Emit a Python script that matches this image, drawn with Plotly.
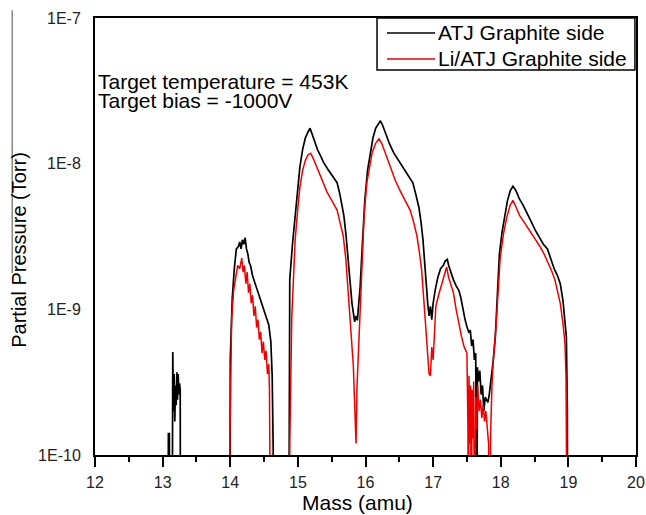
import plotly.graph_objects as go

# ATJ Graphite side (black); 1e-11 marks points below the detection floor (off the axis)
atj_mass = [12.0, 13.08, 13.085, 13.10, 13.105, 13.14, 13.15, 13.16, 13.17, 13.18, 13.19, 13.20,
            13.21, 13.22, 13.23, 13.24, 13.25, 13.26, 13.265, 13.995,
            14.00, 14.03, 14.06, 14.09, 14.12, 14.14, 14.16, 14.18, 14.20, 14.22, 14.24, 14.26,
            14.28, 14.30, 14.33, 14.36, 14.39, 14.42, 14.45, 14.48, 14.51, 14.54, 14.57, 14.60,
            14.62, 14.635, 14.64, 14.865,
            14.87, 14.88, 14.92, 14.96, 15.00, 15.03, 15.07, 15.11, 15.15, 15.18, 15.20, 15.24,
            15.29, 15.34, 15.38, 15.44, 15.50, 15.55, 15.58, 15.62, 15.65, 15.68, 15.71, 15.74,
            15.77, 15.80, 15.82, 15.84, 15.86, 15.88, 15.90, 15.92, 15.95, 15.99, 16.03, 16.07,
            16.11, 16.15, 16.19, 16.22, 16.25, 16.30, 16.36, 16.42, 16.48, 16.55, 16.62, 16.70,
            16.75, 16.79, 16.82, 16.85, 16.88, 16.90, 16.92, 16.94, 16.96, 16.98, 17.00, 17.03,
            17.07, 17.11, 17.15, 17.18, 17.21, 17.23, 17.26, 17.30, 17.34, 17.38, 17.41, 17.44,
            17.47, 17.50, 17.53, 17.55, 17.57, 17.59, 17.61, 17.63, 17.645, 17.655, 17.67, 17.69,
            17.71, 17.73, 17.75, 17.77, 17.79, 17.81, 17.83, 17.86, 17.89, 17.92, 17.95, 17.98,
            18.02, 18.06, 18.10, 18.14, 18.18, 18.22, 18.27, 18.33, 18.39, 18.45, 18.51, 18.57,
            18.63, 18.69, 18.74, 18.79, 18.84, 18.88, 18.92, 18.95, 18.97, 18.985, 18.99, 20.0]
atj_pressure = [1e-11, 1e-11, 1.4e-10, 1.4e-10, 1e-11, 1e-11, 5.1e-10, 2.0e-10, 3.6e-10, 1.7e-10,
                3.0e-10, 2.2e-10, 3.7e-10, 2.4e-10, 3.6e-10, 2.6e-10, 3.1e-10, 2.8e-10, 1e-11, 1e-11,
                4.5e-10, 1.2e-9, 1.9e-9, 2.6e-9, 2.7e-9, 2.9e-9, 2.6e-9, 3.0e-9, 2.8e-9, 3.1e-9,
                2.6e-9, 2.4e-9, 2.1e-9, 2.0e-9, 1.7e-9, 1.55e-9, 1.4e-9, 1.25e-9, 1.15e-9, 1.05e-9,
                9.5e-10, 8.8e-10, 7.8e-10, 6.0e-10, 3.5e-10, 1.1e-10, 1e-11, 1e-11,
                2e-10, 1.6e-9, 2.8e-9, 4.3e-9, 7.0e-9, 9.5e-9, 1.25e-8, 1.5e-8, 1.65e-8, 1.75e-8,
                1.65e-8, 1.45e-8, 1.25e-8, 1.12e-8, 1.02e-8, 9.2e-9, 8.4e-9, 7.8e-9, 7.4e-9, 6.2e-9,
                5.2e-9, 4.4e-9, 3.3e-9, 2.2e-9, 1.5e-9, 1.1e-9, 9.5e-10, 8.2e-10, 9.0e-10, 8.4e-10,
                1.1e-9, 1.4e-9, 2.6e-9, 5.6e-9, 9.0e-9, 1.2e-8, 1.5e-8, 1.75e-8, 1.9e-8, 1.97e-8,
                1.85e-8, 1.6e-8, 1.35e-8, 1.18e-8, 1.07e-8, 9.5e-9, 8.4e-9, 7.4e-9, 6.0e-9, 5.0e-9,
                4.0e-9, 3.0e-9, 1.95e-9, 1.4e-9, 1.1e-9, 9.0e-10, 1.05e-9, 8.5e-10, 1.1e-9, 1.35e-9,
                1.66e-9, 1.9e-9, 2.0e-9, 2.15e-9, 2.2e-9, 2.0e-9, 1.8e-9, 1.6e-9, 1.45e-9, 1.35e-9,
                1.2e-9, 1.0e-9, 8.6e-10, 7.6e-10, 6.9e-10, 7.2e-10, 5.6e-10, 6.2e-10, 4.5e-10, 5.0e-10,
                1e-11, 4.0e-10, 3.2e-10, 3.8e-10, 2.6e-10, 3.0e-10, 2.0e-10, 2.5e-10, 2.4e-10, 2.3e-10,
                2.6e-10, 3.4e-10, 4.5e-10, 6.5e-10, 1.4e-9, 2.4e-9, 3.4e-9, 4.4e-9, 5.6e-9, 6.5e-9,
                7.0e-9, 6.6e-9, 5.8e-9, 5.2e-9, 4.6e-9, 4.0e-9, 3.5e-9, 3.1e-9, 2.8e-9, 2.6e-9,
                2.2e-9, 1.9e-9, 1.7e-9, 1.5e-9, 1.15e-9, 8.5e-10, 6.5e-10, 2e-10, 1e-11, 1e-11]

# Li/ATJ Graphite side (red)
li_mass = [12.0, 13.99, 13.995, 14.01, 14.02, 14.05, 14.08, 14.11, 14.14, 14.17, 14.19, 14.21,
           14.23, 14.25, 14.27, 14.29, 14.31, 14.33, 14.35, 14.37, 14.39, 14.41, 14.43, 14.45,
           14.47, 14.49, 14.51, 14.53, 14.55, 14.57, 14.58, 14.595, 14.60, 14.875,
           14.88, 14.91, 14.94, 14.96, 15.00, 15.03, 15.07, 15.11, 15.15, 15.19, 15.23, 15.28,
           15.33, 15.37, 15.43, 15.50, 15.58, 15.62, 15.67, 15.71, 15.74, 15.77, 15.80, 15.82,
           15.84, 15.86, 15.875, 15.89, 15.91, 15.94, 15.98, 16.02, 16.06, 16.10, 16.15, 16.20,
           16.24, 16.30, 16.36, 16.44, 16.52, 16.60, 16.66, 16.71, 16.76, 16.80, 16.83, 16.86,
           16.88, 16.90, 16.92, 16.94, 16.96, 16.98, 17.00, 17.02, 17.04, 17.08, 17.13, 17.17,
           17.20, 17.23, 17.27, 17.30, 17.34, 17.38, 17.42, 17.46, 17.50, 17.515, 17.52, 17.53,
           17.545, 17.555, 17.565, 17.575, 17.59, 17.60, 17.615, 17.63, 17.645, 17.66, 17.68, 17.70,
           17.72, 17.74, 17.76, 17.78, 17.80, 17.82, 17.835, 17.85, 17.87, 17.89, 17.93, 17.96,
           17.99, 18.04, 18.09, 18.14, 18.18, 18.22, 18.28, 18.34, 18.39, 18.45, 18.52, 18.58,
           18.64, 18.70, 18.75, 18.80, 18.85, 18.88, 18.92, 18.95, 18.965, 18.975, 18.98, 18.985, 20.0]
li_pressure = [1e-11, 1e-11, 1.2e-10, 4.5e-10, 8.5e-10, 1.35e-9, 1.7e-9, 2.0e-9, 1.9e-9, 2.25e-9,
               1.8e-9, 2.0e-9, 1.5e-9, 1.8e-9, 1.3e-9, 1.5e-9, 1.1e-9, 1.25e-9, 9.0e-10, 1.05e-9,
               7.5e-10, 8.5e-10, 6.2e-10, 7.0e-10, 5.0e-10, 6.0e-10, 4.5e-10, 5.2e-10, 3.6e-10, 4.2e-10,
               2.8e-10, 1.1e-10, 1e-11, 1e-11,
               1.2e-10, 8.9e-10, 2.0e-9, 3.0e-9, 5.0e-9, 6.9e-9, 9.0e-9, 1.05e-8, 1.15e-8, 1.18e-8,
               1.08e-8, 9.4e-9, 8.2e-9, 7.4e-9, 6.4e-9, 5.6e-9, 4.8e-9, 4.0e-9, 3.2e-9, 2.2e-9,
               1.45e-9, 9.0e-10, 6.0e-10, 4.1e-10, 2.2e-10, 1.2e-10, 3.0e-10, 4.5e-10, 9.0e-10, 2.0e-9,
               4.5e-9, 7.4e-9, 9.8e-9, 1.2e-8, 1.38e-8, 1.48e-8, 1.38e-8, 1.15e-8, 9.5e-9, 7.7e-9,
               6.4e-9, 5.4e-9, 4.8e-9, 4.0e-9, 3.2e-9, 2.4e-9, 1.86e-9, 1.2e-9, 8.5e-10, 6.0e-10,
               4.5e-10, 3.6e-10, 3.5e-10, 5.5e-10, 4.5e-10, 8.0e-10, 1.05e-9, 1.25e-9, 1.5e-9, 1.8e-9,
               1.95e-9, 1.65e-9, 1.45e-9, 1.3e-9, 1.0e-9, 8.0e-10, 6.5e-10, 5.5e-10, 5.0e-10, 1.5e-10,
               1e-11, 3.5e-10, 1.2e-10, 3.0e-10, 1e-11, 2.8e-10, 1.3e-10, 3.2e-10, 1e-11, 2.5e-10,
               1.5e-10, 3.0e-10, 2.0e-10, 2.4e-10, 1.8e-10, 2.2e-10, 1.7e-10, 2.0e-10, 1.5e-10, 1.2e-10,
               1e-11, 1.4e-10, 3.0e-10, 4.5e-10, 7.6e-10, 1.4e-9, 2.2e-9, 3.3e-9, 4.3e-9, 5.2e-9,
               5.6e-9, 5.1e-9, 4.4e-9, 4.0e-9, 3.7e-9, 3.3e-9, 3.0e-9, 2.7e-9, 2.4e-9, 2.1e-9,
               1.85e-9, 1.6e-9, 1.3e-9, 1.1e-9, 8.0e-10, 5.8e-10, 3.5e-10, 2.0e-10, 1.1e-10, 1e-11, 1e-11]

series_names = ["ATJ Graphite side", "Li/ATJ Graphite side"]
series_colors = ["black", "#ee0000"]
y_tickvals = [1e-10, 1e-9, 1e-8, 1e-7]
y_ticktext = ["1E-10", "1E-9", "1E-8", "1E-7"]
notes = ["Target temperature = 453K", "Target bias = -1000V"]

fig = go.Figure()
fig.add_trace(go.Scatter(x=atj_mass, y=atj_pressure, mode="lines", name=series_names[0],
                         line=dict(color=series_colors[0], width=1.7)))
fig.add_trace(go.Scatter(x=li_mass, y=li_pressure, mode="lines", name=series_names[1],
                         line=dict(color=series_colors[1], width=1.5)))

fig.update_layout(
    width=646, height=515,
    margin=dict(l=95, r=10, t=18, b=60),
    paper_bgcolor="white", plot_bgcolor="white",
    font=dict(family="Arial, Liberation Sans, sans-serif", color="black"),
    showlegend=False,
)
fig.update_xaxes(
    range=[12, 20], dtick=1, showgrid=False, zeroline=False, automargin=False,
    showline=True, linecolor="black", linewidth=2, mirror=True,
    ticks="outside", ticklen=10, tickwidth=1.5, tickcolor="black",
    minor=dict(dtick=0.5, ticks="outside", ticklen=5, tickwidth=1.5, tickcolor="black"),
    tickfont=dict(size=16, color="#222"), ticklabelstandoff=2, ticklabeloverflow="allow",
)
fig.update_yaxes(
    type="log", range=[-10, -7], tickvals=y_tickvals, ticktext=y_ticktext,
    showgrid=False, zeroline=False, ticks="", automargin=False,
    showline=True, linecolor="black", linewidth=2, mirror=True,
    tickfont=dict(size=16, color="#222"), ticklabelstandoff=9,
)

# axis titles
fig.add_annotation(text="Mass (amu)", xref="paper", yref="paper", x=0.485, y=-0.108,
                   xanchor="center", yanchor="middle", showarrow=False, font=dict(size=21))
fig.add_annotation(text="Partial Pressure (Torr)", xref="paper", yref="paper", x=-0.141, y=0.469,
                   xanchor="center", yanchor="middle", textangle=-90, showarrow=False,
                   font=dict(size=20))

# in-plot notes
for i, txt in enumerate(notes):
    fig.add_annotation(text=txt, xref="paper", yref="paper", x=0.002, y=0.855 - i * 0.043,
                       xanchor="left", yanchor="middle", showarrow=False,
                       font=dict(size=21, color="black"))

# legend box drawn by hand to match the original's proportions
fig.add_shape(type="rect", xref="paper", yref="paper", x0=0.5213, x1=0.998, y0=0.881, y1=1.0,
              line=dict(color="black", width=1.5), fillcolor="white", layer="above")
for i, (name, col) in enumerate(zip(series_names, series_colors)):
    ly = 0.9657 - i * 0.0595
    fig.add_shape(type="line", xref="paper", yref="paper", x0=0.5397, x1=0.6285, y0=ly, y1=ly,
                  line=dict(color=col, width=1.6), layer="above")
    fig.add_annotation(text=name, xref="paper", yref="paper", x=0.631, y=ly,
                       xanchor="left", yanchor="middle", showarrow=False, font=dict(size=21))

# stray grey rule at the far left of the scanned figure
fig.add_shape(type="line", xref="paper", yref="paper", x0=-0.153, x1=-0.153, y0=0.416, y1=1.018,
              line=dict(color="#888", width=1.5))

# drop the default 8px page margin so the figure sits at the window's top-left corner
fig.write_html("out.html", config={"displayModeBar": False},
               post_script="document.body.style.margin='0';document.body.style.overflow='hidden';")
